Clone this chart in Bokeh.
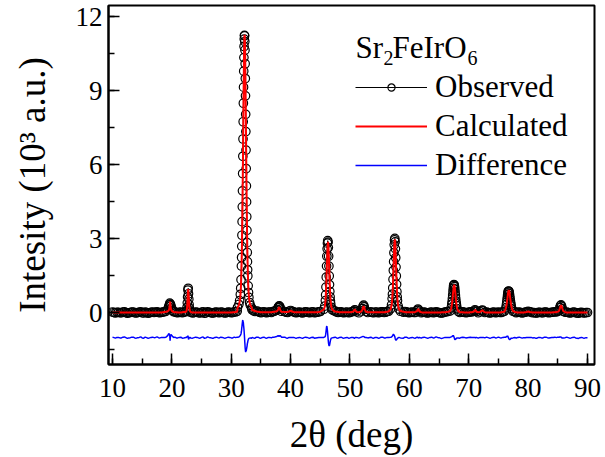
import numpy as np
from bokeh.plotting import figure
from bokeh.models import (ColumnDataSource, Legend, LegendItem, Label,
                          SingleIntervalTicker, Range1d)
from bokeh.embed import file_html
from bokeh.resources import INLINE

# ---------------- data ----------------
two_theta = [
    10.0, 10.25, 10.5, 10.75, 11.0, 11.25, 11.5, 11.75, 12.0, 12.25, 12.5, 12.75, 13.0, 13.25, 13.5, 13.75, 14.0, 14.25, 14.5, 14.75,
    15.0, 15.25, 15.5, 15.75, 16.0, 16.25, 16.5, 16.75, 17.0, 17.25, 17.5, 17.75, 18.0, 18.25, 18.5, 18.75, 19.0,
    19.3, 19.45, 19.55, 19.65, 19.7, 19.75, 19.85, 19.95, 20.1, 20.3,
    20.5, 20.75, 21.0, 21.25, 21.5, 21.75, 22.0,
    22.35, 22.45, 22.55, 22.6, 22.65, 22.7, 22.75, 22.8, 22.85, 22.9, 22.95, 23.05, 23.15,
    23.5, 23.75, 24.0, 24.25, 24.5, 24.75, 25.0, 25.25, 25.5, 25.75, 26.0, 26.25, 26.5, 26.75, 27.0, 27.25, 27.5, 27.75,
    28.0, 28.25, 28.5, 28.75, 29.0, 29.25, 29.5, 29.75, 30.0, 30.25, 30.5, 30.75, 31.0,
    31.05, 31.29, 31.41, 31.53, 31.59, 31.65,
    31.71, 31.74, 31.77, 31.80, 31.83, 31.86, 31.89, 31.92, 31.95, 31.98, 32.01, 32.04, 32.07, 32.10, 32.13, 32.16, 32.19, 32.22,
    32.25,
    32.28, 32.31, 32.34, 32.37, 32.40, 32.43, 32.46, 32.49, 32.52, 32.55, 32.58, 32.61, 32.64, 32.67, 32.70, 32.73, 32.76, 32.79,
    32.85, 32.91, 32.97, 33.09, 33.21, 33.45,
    33.5, 33.75, 34.0, 34.25, 34.5, 34.75, 35.0, 35.25, 35.5, 35.75, 36.0, 36.25, 36.5, 36.75, 37.0, 37.25, 37.5,
    37.75, 37.9, 38.0, 38.1, 38.2, 38.3, 38.45,
    39.0, 39.25, 39.5, 39.75, 40.0, 40.25, 40.5, 40.75, 41.0, 41.25, 41.5, 41.75, 42.0, 42.25, 42.5, 42.75, 43.0, 43.25, 43.5, 43.75,
    44.0, 44.25, 44.5, 44.75, 45.0,
    45.6, 45.75, 45.85, 45.9, 45.95, 46.0, 46.05, 46.1, 46.15, 46.2, 46.25, 46.3, 46.35, 46.4, 46.45, 46.5, 46.55, 46.6, 46.65, 46.7, 46.75, 46.85, 47.0, 47.3,
    47.5, 47.75, 48.0, 48.25, 48.5, 48.75, 49.0, 49.25, 49.5, 49.75, 50.0, 50.25, 50.5,
    50.7, 50.8, 50.9, 51.1, 51.5, 51.9, 52.1, 52.2, 52.3, 52.4, 52.5, 52.7, 53.0,
    53.5, 53.75, 54.0, 54.25, 54.5, 54.75, 55.0, 55.25, 55.5, 55.75, 56.0, 56.25, 56.5,
    56.85, 57.0, 57.1, 57.15, 57.2, 57.25, 57.3, 57.35, 57.4, 57.45, 57.5, 57.55, 57.6, 57.65, 57.7, 57.75, 57.8, 57.85, 57.9, 57.95, 58.0, 58.1, 58.25, 58.5,
    59.0, 59.25, 59.5, 59.75, 60.0, 60.25, 60.5, 60.75, 61.0,
    61.3, 61.45, 61.55, 61.7,
    62.0, 62.25, 62.5, 62.75, 63.0, 63.25, 63.5, 63.75, 64.0, 64.25, 64.5, 64.75, 65.0, 65.25, 65.5, 65.75, 66.0, 66.25, 66.5,
    66.85, 67.05, 67.15, 67.2, 67.25, 67.3, 67.35, 67.4, 67.45, 67.5, 67.55, 67.6, 67.65, 67.7, 67.75, 67.8, 67.85, 67.9, 67.95, 68.05, 68.25,
    68.5, 68.75, 69.0, 69.25, 69.5, 69.75, 70.0, 70.25, 70.5,
    70.9, 71.05, 71.15, 71.3, 71.6, 71.9, 72.15, 72.3, 72.45, 72.7,
    73.0, 73.25, 73.5, 73.75, 74.0, 74.25, 74.5, 74.75, 75.0, 75.25, 75.5, 75.75, 76.0,
    76.25, 76.35, 76.4, 76.45, 76.5, 76.55, 76.6, 76.65, 76.7, 76.75, 76.8, 76.85, 76.9, 76.95, 77.0, 77.05, 77.1, 77.15, 77.25, 77.45, 77.75,
    78.0, 78.25, 78.5, 78.75, 79.0, 79.25, 79.5, 79.75, 80.0, 80.25, 80.5, 80.75, 81.0, 81.25, 81.5, 81.75, 82.0, 82.25, 82.5, 82.75,
    83.0, 83.25, 83.5, 83.75, 84.0, 84.25, 84.5, 84.75, 85.0,
    85.2, 85.35, 85.45, 85.55, 85.65, 85.75, 85.9,
    86.25, 86.5, 86.75, 87.0, 87.25, 87.5, 87.75, 88.0, 88.25, 88.5, 88.75, 89.0, 89.25, 89.5, 89.75, 90.0,
]

observed = [
    0.04, 0.02, 0.00, 0.03, 0.03, 0.01, 0.01, 0.04, 0.05, 0.02, -0.01, 0.01, 0.02, 0.04, 0.04, 0.01, 0.00, 0.02, 0.03, 0.05,
    0.01, 0.00, 0.04, 0.02, -0.01, 0.01, 0.03, 0.04, 0.02, 0.03, 0.05, 0.02, 0.01, 0.03, 0.04, 0.05, 0.07,
    0.15, 0.25, 0.32, 0.40, 0.34, 0.36, 0.29, 0.20, 0.11, 0.05,
    0.05, 0.02, 0.01, 0.03, 0.04, 0.01, 0.03,
    0.05, 0.08, 0.22, 0.41, 0.65, 0.93, 1.00, 0.78, 0.56, 0.34, 0.20, 0.08, 0.03,
    0.00, 0.02, 0.04, 0.03, 0.01, 0.00, 0.03, 0.05, -0.01, 0.01, 0.05, 0.03, 0.02, 0.00, 0.00, 0.03, 0.04, 0.02,
    0.01, 0.04, 0.03, 0.01, 0.00, 0.02, 0.04, 0.03, 0.01, 0.02, 0.05, 0.04, 0.07,
    0.22, 0.35, 0.50, 0.75, 1.00, 1.35,
    1.90, 2.25, 2.70, 3.15, 3.70, 4.30, 4.95, 5.65, 6.35, 7.05, 7.75, 8.50, 9.15, 9.80, 10.35, 10.80, 11.10, 11.25,
    11.23,
    11.00, 10.65, 10.10, 9.50, 8.80, 8.05, 7.35, 6.60, 5.85, 5.15, 4.50, 3.90, 3.35, 2.85, 2.45, 2.08, 1.75, 1.50,
    1.10, 0.83, 0.63, 0.42, 0.31, 0.20,
    0.13, 0.09, 0.06, 0.08, 0.07, 0.03, 0.01, 0.04, 0.05, 0.02, 0.01, 0.04, 0.04, 0.02, 0.06, 0.07, 0.10,
    0.14, 0.22, 0.27, 0.29, 0.24, 0.16, 0.07,
    0.06, 0.03, 0.02, 0.07, 0.10, 0.07, 0.05, 0.02, 0.01, 0.03, 0.04, 0.02, 0.00, 0.03, 0.05, 0.04, 0.02, 0.01, 0.04, 0.05,
    0.01, 0.02, 0.03, 0.05, 0.06,
    0.15, 0.28, 0.50, 0.73, 1.05, 1.45, 1.90, 2.30, 2.60, 2.83, 2.93, 2.87, 2.65, 2.30, 1.90, 1.50, 1.15, 0.87, 0.65, 0.49, 0.37, 0.23, 0.13, 0.09,
    0.08, 0.04, 0.02, 0.04, 0.05, 0.02, 0.01, 0.03, 0.04, 0.01, 0.02, 0.05, 0.06,
    0.08, 0.13, 0.11, 0.05, 0.01, 0.08, 0.18, 0.28, 0.32, 0.25, 0.14, 0.06, 0.02,
    0.05, 0.02, 0.01, 0.04, 0.04, 0.01, 0.02, 0.05, 0.05, 0.02, 0.03, 0.06, 0.07,
    0.17, 0.33, 0.58, 0.76, 1.01, 1.36, 1.72, 2.08, 2.44, 2.76, 2.96, 3.02, 2.88, 2.60, 2.24, 1.86, 1.50, 1.16, 0.86, 0.65, 0.50, 0.29, 0.16, 0.07,
    0.03, 0.06, 0.05, 0.02, 0.01, 0.03, 0.04, 0.02, 0.02,
    0.10, 0.16, 0.12, 0.07,
    0.01, 0.03, 0.04, 0.02, 0.00, 0.01, 0.03, 0.04, 0.01, 0.02, 0.05, 0.03, 0.02, 0.00, 0.00, 0.02, 0.04, 0.05, 0.06,
    0.08, 0.21, 0.36, 0.46, 0.59, 0.73, 0.88, 1.00, 1.11, 1.15, 1.14, 1.07, 0.97, 0.85, 0.72, 0.60, 0.48, 0.38, 0.30, 0.17, 0.06,
    0.02, 0.04, 0.05, 0.03, 0.01, 0.02, 0.03, 0.05, 0.04,
    0.07, 0.13, 0.10, 0.06, 0.01, 0.05, 0.10, 0.12, 0.08, 0.02,
    0.04, 0.02, 0.00, 0.01, 0.03, 0.04, 0.01, 0.02, 0.04, 0.02, 0.02, 0.05, 0.07,
    0.21, 0.34, 0.43, 0.53, 0.63, 0.73, 0.81, 0.87, 0.89, 0.88, 0.84, 0.78, 0.69, 0.60, 0.51, 0.43, 0.35, 0.28, 0.17, 0.07, 0.05,
    0.01, 0.03, 0.04, 0.02, 0.00, 0.02, 0.03, 0.05, 0.07, 0.05, 0.04, 0.01, 0.02, 0.00, 0.00, 0.03, 0.03, 0.01, 0.01, 0.04,
    0.04, 0.02, 0.01, 0.02, 0.03, 0.04, 0.05, 0.04, 0.07,
    0.10, 0.22, 0.30, 0.33, 0.27, 0.17, 0.07,
    0.03, 0.04, 0.02, 0.00, 0.01, 0.03, 0.04, 0.01, 0.00, -0.01, 0.02, 0.03, 0.01, 0.00, 0.02, 0.02,
]

calculated = [
    0.02, 0.02, 0.02, 0.02, 0.02, 0.02, 0.02, 0.02, 0.02, 0.02, 0.02, 0.02, 0.02, 0.02, 0.02, 0.02, 0.02, 0.02, 0.02, 0.02,
    0.02, 0.02, 0.02, 0.02, 0.02, 0.02, 0.02, 0.02, 0.02, 0.02, 0.02, 0.02, 0.02, 0.02, 0.03, 0.04, 0.05,
    0.07, 0.10, 0.16, 0.33, 0.46, 0.33, 0.16, 0.10, 0.06, 0.04,
    0.03, 0.03, 0.02, 0.02, 0.02, 0.03, 0.04,
    0.04, 0.07, 0.19, 0.36, 0.60, 0.85, 0.97, 0.85, 0.60, 0.36, 0.19, 0.07, 0.04,
    0.02, 0.02, 0.02, 0.02, 0.02, 0.02, 0.02, 0.02, 0.02, 0.02, 0.02, 0.02, 0.02, 0.02, 0.02, 0.02, 0.02, 0.02,
    0.02, 0.02, 0.02, 0.02, 0.02, 0.02, 0.02, 0.02, 0.02, 0.03, 0.03, 0.04, 0.05,
    0.20, 0.32, 0.44, 0.66, 0.88, 1.19,
    1.65, 1.95, 2.30, 2.71, 3.18, 3.72, 4.31, 4.95, 5.65, 6.38, 7.13, 7.90, 8.64, 9.35, 9.98, 10.51, 10.93, 11.18,
    11.27,
    11.18, 10.93, 10.51, 9.98, 9.35, 8.64, 7.90, 7.13, 6.38, 5.65, 4.95, 4.31, 3.72, 3.18, 2.71, 2.30, 1.95, 1.65,
    1.19, 0.88, 0.66, 0.44, 0.32, 0.22,
    0.12, 0.10, 0.08, 0.06, 0.05, 0.04, 0.03, 0.03, 0.03, 0.03, 0.03, 0.03, 0.03, 0.03, 0.04, 0.05, 0.06,
    0.08, 0.14, 0.21, 0.23, 0.16, 0.09, 0.05,
    0.04, 0.04, 0.04, 0.06, 0.09, 0.06, 0.04, 0.03, 0.03, 0.03, 0.03, 0.03, 0.03, 0.03, 0.03, 0.03, 0.03, 0.03, 0.03, 0.03,
    0.03, 0.03, 0.03, 0.04, 0.05,
    0.14, 0.25, 0.44, 0.61, 0.83, 1.12, 1.46, 1.83, 2.21, 2.55, 2.79, 2.88, 2.79, 2.55, 2.21, 1.83, 1.46, 1.12, 0.83, 0.61, 0.44, 0.25, 0.14, 0.08,
    0.06, 0.05, 0.04, 0.03, 0.03, 0.03, 0.03, 0.03, 0.03, 0.03, 0.03, 0.04, 0.05,
    0.10, 0.15, 0.10, 0.04, 0.03, 0.06, 0.14, 0.23, 0.28, 0.22, 0.13, 0.05, 0.03,
    0.03, 0.03, 0.03, 0.03, 0.03, 0.03, 0.03, 0.03, 0.03, 0.03, 0.04, 0.05, 0.06,
    0.15, 0.30, 0.53, 0.69, 0.92, 1.24, 1.59, 1.96, 2.33, 2.67, 2.90, 2.98, 2.90, 2.67, 2.33, 1.96, 1.59, 1.24, 0.92, 0.69, 0.53, 0.30, 0.15, 0.08,
    0.05, 0.04, 0.03, 0.03, 0.03, 0.03, 0.03, 0.03, 0.04,
    0.08, 0.15, 0.14, 0.06,
    0.03, 0.02, 0.02, 0.02, 0.02, 0.02, 0.02, 0.02, 0.02, 0.02, 0.02, 0.02, 0.02, 0.02, 0.03, 0.03, 0.03, 0.04, 0.05,
    0.07, 0.18, 0.32, 0.41, 0.53, 0.66, 0.80, 0.92, 1.04, 1.11, 1.14, 1.11, 1.04, 0.92, 0.80, 0.66, 0.53, 0.41, 0.32, 0.18, 0.07,
    0.04, 0.03, 0.03, 0.02, 0.02, 0.02, 0.02, 0.03, 0.03,
    0.06, 0.12, 0.11, 0.05, 0.03, 0.04, 0.09, 0.11, 0.07, 0.03,
    0.02, 0.02, 0.02, 0.02, 0.02, 0.02, 0.02, 0.02, 0.02, 0.02, 0.03, 0.04, 0.05,
    0.19, 0.30, 0.38, 0.48, 0.57, 0.67, 0.76, 0.85, 0.90, 0.92, 0.90, 0.85, 0.76, 0.67, 0.57, 0.48, 0.38, 0.30, 0.19, 0.08, 0.04,
    0.03, 0.02, 0.02, 0.02, 0.02, 0.02, 0.03, 0.04, 0.06, 0.04, 0.03, 0.02, 0.02, 0.02, 0.02, 0.02, 0.02, 0.02, 0.02, 0.02,
    0.02, 0.02, 0.02, 0.02, 0.02, 0.03, 0.03, 0.04, 0.05,
    0.08, 0.19, 0.27, 0.31, 0.27, 0.19, 0.08,
    0.03, 0.02, 0.02, 0.02, 0.02, 0.02, 0.02, 0.02, 0.02, 0.02, 0.02, 0.02, 0.02, 0.02, 0.02, 0.02,
]

difference_offset = -1.0   # difference curve is shifted down by 1 (x10^3 a.u.)

assert len(two_theta) == len(observed) == len(calculated), (len(two_theta), len(observed), len(calculated))

x_tick_interval = 10
y_tick_interval = 3

# ---------------- figure ----------------
FONT = "Liberation Serif"
x = np.array(two_theta)
obs = np.array(observed)
calc = np.array(calculated)
diff = obs - calc + difference_offset

src = ColumnDataSource(dict(x=x, obs=obs, calc=calc, diff=diff))

p = figure(width=605, height=457,
           x_range=Range1d(9.326, 91.18), y_range=Range1d(-2.088, 12.46),
           output_backend="svg", toolbar_location=None,
           min_border_left=108, min_border_right=11,
           min_border_top=5, min_border_bottom=93)
p.background_fill_color = "white"
p.border_fill_color = "white"
p.outline_line_color = "black"
p.outline_line_width = 2
p.xgrid.visible = False
p.ygrid.visible = False

for ax in (p.xaxis[0], p.yaxis[0]):
    ax.axis_line_width = 2
    ax.axis_line_color = "black"
    ax.major_tick_in = 11
    ax.major_tick_out = 0
    ax.minor_tick_in = 6
    ax.minor_tick_out = 0
    ax.major_tick_line_width = 1.5
    ax.minor_tick_line_width = 1.5
    ax.major_label_text_font = FONT
    ax.major_label_text_font_size = "27px"
    ax.major_label_text_line_height = 1.0
    ax.major_label_text_color = "black"
    ax.axis_label_text_font = FONT
    ax.axis_label_text_font_size = "37px"
    ax.axis_label_text_line_height = 1.0
    ax.axis_label_text_font_style = "normal"
    ax.axis_label_text_color = "black"

p.xaxis.ticker = SingleIntervalTicker(interval=x_tick_interval, num_minor_ticks=2)
p.yaxis.ticker = SingleIntervalTicker(interval=y_tick_interval, num_minor_ticks=2)
p.xaxis.axis_label = "2θ (deg)"
p.yaxis.axis_label = "Intesity (10³ a.u.)"
p.xaxis.major_label_standoff = 14
p.yaxis.major_label_standoff = 6
p.xaxis.axis_label_standoff = 14
p.yaxis.axis_label_standoff = 20

r_diff = p.line("x", "diff", source=src, line_color="#0000ff", line_width=1.5)
r_obs_line = p.line("x", "obs", source=src, line_color="black", line_width=1)
r_obs = p.scatter("x", "obs", source=src, marker="circle", size=8.5,
                  line_color="black", line_width=1.2, fill_color=None)
r_calc = p.line("x", "calc", source=src, line_color="#ff0000", line_width=2)

legend = Legend(items=[
    LegendItem(label="Observed", renderers=[r_obs_line, r_obs]),
    LegendItem(label="Calculated", renderers=[r_calc]),
    LegendItem(label="Difference", renderers=[r_diff]),
], location=(247, 180), glyph_width=72, glyph_height=18, label_height=39,
    label_standoff=8, spacing=0, padding=0, margin=0, border_line_color=None,
    background_fill_alpha=0, label_text_font=FONT, label_text_font_size="31px",
    label_text_color="black")
p.add_layout(legend)

# compound title  Sr2FeIrO6 (subscripts as smaller, lowered text)
title_parts = [("Sr", 50.93, 10.76, "31px"), ("2", 55.64, 10.32, "20px"),
               ("FeIrO", 57.16, 10.76, "31px"), ("6", 69.79, 10.32, "20px")]
for txt, tx, ty, fs in title_parts:
    p.add_layout(Label(x=tx, y=ty, text=txt, text_font=FONT, text_font_size=fs,
                       text_baseline="alphabetic", text_align="left", text_color="black"))

open("out.html", "w").write(file_html(p, INLINE))
